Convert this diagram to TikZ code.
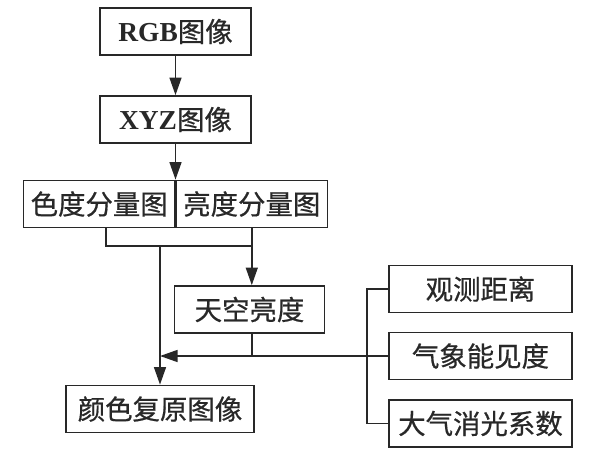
\documentclass[tikz,border=0pt]{standalone}
\usepackage{fontspec}
\setmainfont{Liberation Serif}
\newfontfamily\cjk[FakeBold=0.6]{Noto Sans CJK SC}
\usepackage{xcolor}
\usepackage{tikz}
\usetikzlibrary{arrows.meta, positioning, calc}
\definecolor{flowInk}{RGB}{40,40,40}

\begin{document}
\begin{tikzpicture}[x=0.025cm, y=-0.025cm,
  box/.style={draw=flowInk, line width=1.1pt, rectangle, inner sep=0pt,
              minimum width=3.775cm, minimum height=1.18cm,
              font=\fontsize{19.5}{22}\selectfont, text=flowInk},
  wire/.style={draw=flowInk, line width=1.1pt},
  arr/.style={wire, -{Triangle[length=4.4mm, width=3mm]}}]
\useasboundingbox (0,0) rectangle (600,455);

% Main chain
\node[box] (rgb) at (175.5,31.5) {\textbf{RGB}\cjk 图像};
\node[box] (xyz) at (175.5,119.5) {\textbf{XYZ}\cjk 图像};
\node[box, anchor=east] (chroma) at (175.5,204) {\cjk 色度分量图};
\node[box, anchor=west] (lum) at (175.5,204) {\cjk 亮度分量图};
\node[box, minimum width=3.75cm] (sky) at (249.5,309.5) {\cjk 天空亮度};
\node[box, minimum width=4.7cm] (restored) at (160,409) {\cjk 颜色复原图像};

% Atmospheric inputs
\node[box, minimum width=4.575cm] (dist) at (480.5,289) {\cjk 观测距离};
\node[box, minimum width=4.575cm] (vis) at (480.5,356) {\cjk 气象能见度};
\node[box, minimum width=4.575cm] (coef) at (480.5,423.5) {\cjk 大气消光系数};

\draw[arr] (rgb) -- (xyz);
\draw[arr] (xyz.south) -- (chroma.north east);

% Split of the two components
\coordinate (jL) at (106,246);
\draw[wire] (chroma.south -| jL) -- (jL) -- (jL -| lum.south);
\draw[arr] (lum.south) -- (sky.north -| lum.south);
\draw[arr] (jL -| restored.north) -- (restored.north);

% Bracket of the right-hand boxes
\coordinate (br) at (367,356);
\draw[wire] (dist.west) -| (br) |- (coef.west);
\draw[arr] (vis.west) -- (vis.west -| restored.north);
\draw[wire] (sky.south -| lum.south) -- (vis.west -| lum.south);

\end{tikzpicture}
\end{document}
